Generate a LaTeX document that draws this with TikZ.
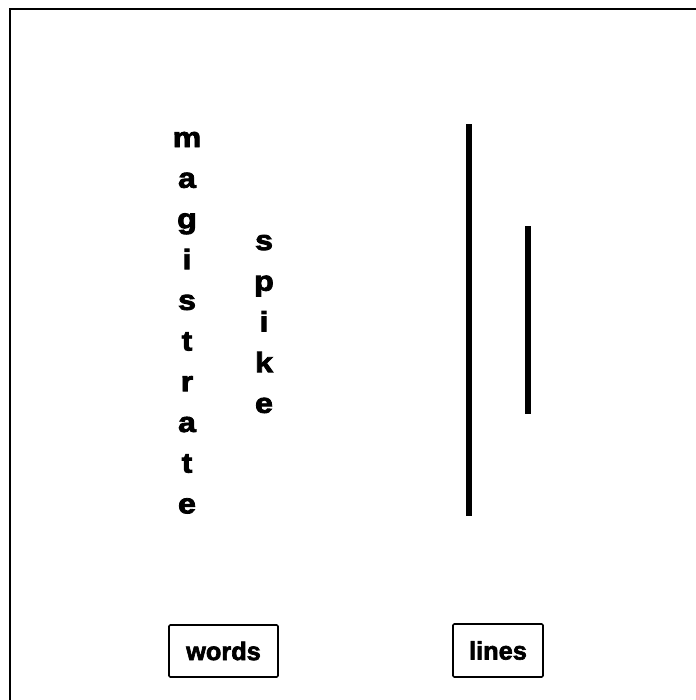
\documentclass[tikz,border=0pt]{standalone}
\usepackage{fontspec}
\setmainfont{Liberation Sans}
\newfontfamily\heavyfont[FakeBold=3,FakeStretch=1.15]{Liberation Sans Bold}
\newfontfamily\labelfont[FakeBold=2.5]{Liberation Sans Bold}
\begin{document}
\begin{tikzpicture}[x=0.75pt,y=-0.75pt,
  letter/.style={anchor=base,inner sep=0pt,font=\heavyfont\fontsize{21pt}{24pt}\selectfont},
  labelbox/.style={draw,line width=1.2pt,rounded corners=1pt,inner sep=0pt,font=\labelfont\fontsize{19pt}{23pt}\selectfont},
  bar/.style={line width=4.5pt}]
\useasboundingbox (0,0) rectangle (696,700);
\draw[line width=1.6pt] (10,9) rectangle (710,715);
% magistrate
\foreach \c [count=\i from 0] in {m,a,g,i,s,t,r,a,t,e}{
  \node[letter] (m\i) at (187,{147+40.7*\i}) {\c};
}
% spike
\foreach \c [count=\i from 0] in {s,p,i,k,e}{
  \node[letter] (s\i) at (264,{250+40.7*\i}) {\c};
}
% lines
\coordinate (l1a) at (469,124);
\coordinate (l1b) at (469,516);
\coordinate (l2a) at (528,226);
\coordinate (l2b) at (528,414);
\draw[bar] (l1a) -- (l1b);
\draw[bar] (l2a) -- (l2b);
% boxes
\node[labelbox,minimum width=109*0.75pt,minimum height=52*0.75pt] (words) at (223.5,651) {words};
\node[labelbox,minimum width=90*0.75pt,minimum height=53*0.75pt] (lines) at (498,650.5) {lines};
\end{tikzpicture}
\end{document}
